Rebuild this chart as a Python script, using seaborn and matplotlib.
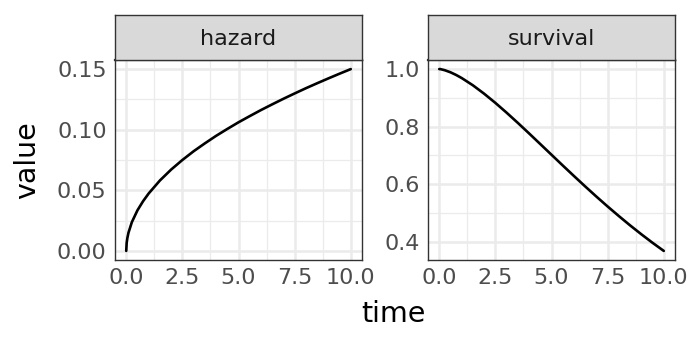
import matplotlib
matplotlib.use("Agg")
import matplotlib.pyplot as plt
import seaborn as sns
import pandas as pd

# values
time = [0, 0.02, 0.05, 0.1, 0.25, 0.5, 0.75, 1, 1.5, 2, 2.5, 3, 3.5, 4, 4.5, 5,
        5.5, 6, 6.5, 7, 7.5, 8, 8.5, 9, 9.5, 10]
hazard = [0.0, 0.0067, 0.0106, 0.015, 0.0237, 0.0335, 0.041, 0.0474, 0.0581,
          0.0671, 0.075, 0.0822, 0.0887, 0.0949, 0.1006, 0.1061, 0.1112,
          0.1162, 0.1209, 0.1255, 0.1299, 0.1342, 0.1383, 0.1423, 0.1462, 0.15]
survival = [1.0, 1.0, 1.0, 0.999, 0.996, 0.9889, 0.9797, 0.9689, 0.9436,
            0.9144, 0.8825, 0.8485, 0.813, 0.7765, 0.7394, 0.7022, 0.665,
            0.6283, 0.5921, 0.5567, 0.5223, 0.489, 0.4567, 0.4258, 0.3961,
            0.3679]
x_ticks = [0, 2.5, 5, 7.5, 10]
x_labels = ["0.0", "2.5", "5.0", "7.5", "10.0"]
haz_ticks = [0.0, 0.05, 0.10, 0.15]
haz_labels = ["0.00", "0.05", "0.10", "0.15"]
surv_ticks = [0.4, 0.6, 0.8, 1.0]
surv_labels = ["0.4", "0.6", "0.8", "1.0"]

df = pd.concat([
    pd.DataFrame({"time": time, "value": hazard, "name": "hazard"}),
    pd.DataFrame({"time": time, "value": survival, "name": "survival"}),
])

sns.set_style("white")
plt.rcParams["font.family"] = ["DejaVu Sans"]

W, H = 691, 345
fig = plt.figure(figsize=(W / 100, H / 100), dpi=100)

panels = [
    ("hazard", 115, haz_ticks, haz_labels),
    ("survival", 428, surv_ticks, surv_labels),
]

for name, left, yt, yl in panels:
    sub = df[df["name"] == name]
    ax = fig.add_axes([left / W, (H - 260) / H, 247 / W, 200 / H])
    ax.set_facecolor("white")
    # ggplot-style 5% expansion
    lo, hi = sub["value"].min(), sub["value"].max()
    pad = (hi - lo) * 0.05
    ax.set_ylim(lo - pad, hi + pad)
    ax.set_xlim(-0.5, 10.5)
    ax.set_xticks(x_ticks)
    ax.set_xticklabels(x_labels)
    ax.set_yticks(yt)
    ax.set_yticklabels(yl)
    ax.set_xticks([1.25, 3.75, 6.25, 8.75], minor=True)
    ax.set_yticks([(a + b) / 2 for a, b in zip(yt[:-1], yt[1:])], minor=True)
    ax.grid(which="major", color="#EBEBEB", linewidth=1.8)
    ax.grid(which="minor", color="#EBEBEB", linewidth=0.9)
    ax.set_axisbelow(True)
    ax.tick_params(which="major", length=4, width=1.1, color="#333333",
                   labelsize=16, labelcolor="#4D4D4D", pad=2)
    ax.tick_params(which="minor", length=0)
    for s in ax.spines.values():
        s.set_color("#333333")
        s.set_linewidth(1.0)
    ax.spines["top"].set_linewidth(1.6)
    sns.lineplot(data=sub, x="time", y="value", color="black",
                 linewidth=1.9, ax=ax)
    ax.set_xlabel("")
    ax.set_ylabel("")

    strip = fig.add_axes([left / W, (H - 60) / H, 247 / W, 45 / H])
    strip.set_facecolor("#D9D9D9")
    strip.set_xticks([])
    strip.set_yticks([])
    for s in strip.spines.values():
        s.set_color("#333333")
        s.set_linewidth(1.0)
    strip.text(0.5, 0.47, name, ha="center", va="center",
               fontsize=16, color="#1A1A1A", transform=strip.transAxes)

fig.text(393 / W, 1 - 314 / H, "time", ha="center", va="center",
         fontsize=20.5, color="black")
fig.text(27 / W, 1 - 160 / H, "value", ha="center", va="center",
         fontsize=20.5, rotation=90, color="black")

fig.savefig("out.png", dpi=100)
